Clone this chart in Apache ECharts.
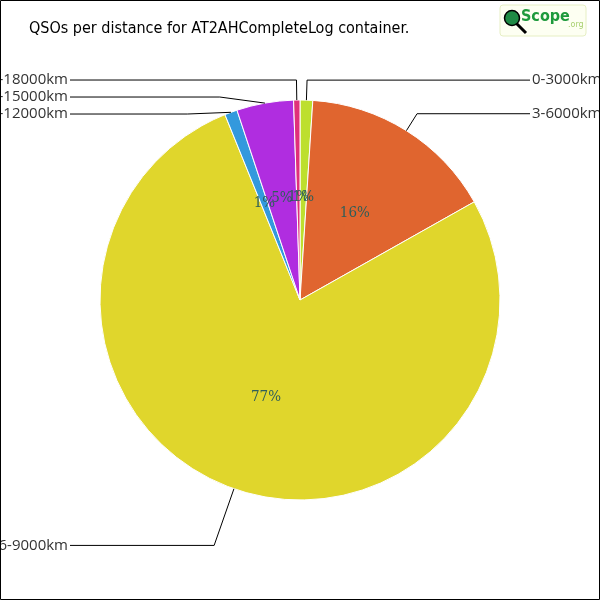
<!DOCTYPE html>
<html>
<head>
<meta charset="utf-8">
<script src="https://cdn.jsdelivr.net/npm/echarts@6/dist/echarts.min.js"></script>
<style>html,body{margin:0;padding:0;background:#fff}#c{width:600px;height:600px}</style>
</head>
<body>
<div id="c"></div>
<script>
var categories = ['0-3000km', '3-6000km', '6-9000km', '9-12000km', '12-15000km', '15-18000km'];
var counts = [2, 31, 151, 2, 9, 1];
var colors = ['#bddf2e', '#e0652f', '#e0d62c', '#3399dd', '#b02de0', '#e0307a'];
var leaderLengths = [20, 20, 60, 20, 20, 20];
var titleText = 'QSOs per distance for AT2AHCompleteLog container.';

var data = categories.map(function (c, i) {
  return { name: c, value: counts[i], itemStyle: { color: colors[i] } };
});
var dataLabels = categories.map(function (c, i) {
  return { name: c, value: counts[i], labelLine: { length: leaderLengths[i] } };
});

var chart = echarts.init(document.getElementById('c'), null, { renderer: 'canvas' });
chart.setOption({
  backgroundColor: '#fff',
  animation: false,
  title: {
    text: titleText, left: 24, top: 16,
    textStyle: { fontFamily: 'DejaVu Sans Condensed', fontWeight: 'normal', fontSize: 16, color: '#000' }
  },
  graphic: [
    { type: 'rect', shape: { x: 0.5, y: 0.5, width: 599, height: 599 }, style: { fill: 'none', stroke: '#000', lineWidth: 1 }, z: 100 },
    { type: 'group', children: [
      { type: 'rect', shape: { x: 500, y: 5, width: 86, height: 31, r: 3 }, style: { fill: '#fdfff2', stroke: '#e6efc4', lineWidth: 1 } },
      { type: 'line', shape: { x1: 516, y1: 23, x2: 526, y2: 33 }, style: { stroke: '#000', lineWidth: 3 } },
      { type: 'circle', shape: { cx: 512, cy: 18, r: 7.5 }, style: { fill: '#1f8a45', stroke: '#000', lineWidth: 1.5 } },
      { type: 'text', style: { x: 521, y: 9, text: 'Scope', font: 'bold 16px "DejaVu Sans Condensed"', fill: '#1e9a3c' } },
      { type: 'text', style: { x: 568, y: 21, text: '.org', font: '8px "DejaVu Sans"', fill: '#a8d070' } }
    ] }
  ],
  series: [
    {
      type: 'pie',
      center: [300, 300],
      radius: 200,
      startAngle: 90,
      clockwise: true,
      avoidLabelOverlap: false,
      labelLayout: { hideOverlap: false },
      data: data,
      itemStyle: { borderColor: '#fff', borderWidth: 1 },
      label: {
        position: 'inner',
        formatter: function (p) { return Math.round(p.percent) + '%'; },
        fontFamily: 'DejaVu Serif Condensed',
        fontSize: 15,
        color: '#2e5e5a'
      },
      labelLine: { show: false },
      emphasis: { disabled: true }
    },
    {
      type: 'pie',
      center: [300, 300],
      radius: 200,
      startAngle: 90,
      clockwise: true,
      silent: true,
      z: 3,
      data: dataLabels,
      itemStyle: { color: 'rgba(0,0,0,0)', borderWidth: 0 },
      label: {
        position: 'outside',
        formatter: '{b}',
        fontFamily: 'Open Sans',
        fontSize: 15,
        color: '#333'
      },
      labelLine: { show: true, length: 20, length2: 20, lineStyle: { color: '#000', width: 1 } },
      labelLayout: function (p) {
        var pts = p.labelLinePoints;
        if (!pts) return {};
        var right = pts[1][0] > 300;
        var yy = pts[2][1];
        return {
          x: right ? 532 : 68,
          y: yy,
          align: right ? 'left' : 'right',
          verticalAlign: 'middle',
          labelLinePoints: [pts[0], [pts[1][0], yy], [right ? 530 : 70, yy]]
        };
      },
      emphasis: { disabled: true }
    }
  ]
});
</script>
</body>
</html>
